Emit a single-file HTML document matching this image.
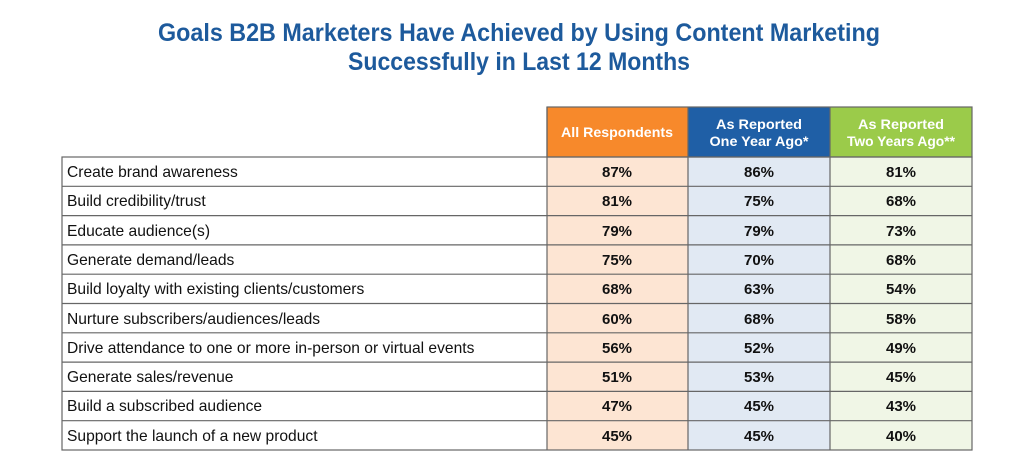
<!DOCTYPE html>
<html><head><meta charset="utf-8"><style>
body{margin:0;background:#fff;}
svg text{font-family:"Liberation Sans",sans-serif;}
</style></head><body>
<svg width="1024" height="468" xmlns="http://www.w3.org/2000/svg">
<rect width="1024" height="468" fill="#fff"/>
<g fill="#1d5a9c" font-weight="bold" font-size="25" text-anchor="middle">
<text x="519" y="41" textLength="722" lengthAdjust="spacingAndGlyphs">Goals B2B Marketers Have Achieved by Using Content Marketing</text>
<text x="519" y="70" textLength="342" lengthAdjust="spacingAndGlyphs">Successfully in Last 12 Months</text>
</g>
<rect x="547" y="107" width="141" height="50" fill="#f7892b"/>
<rect x="688" y="107" width="142" height="50" fill="#1f5fa6"/>
<rect x="830" y="107" width="142" height="50" fill="#9bcb4a"/>
<g fill="#fff" font-weight="bold" font-size="14" text-anchor="middle">
<text x="617" y="137" textLength="112" lengthAdjust="spacingAndGlyphs">All Respondents</text>
<text x="759" y="129" textLength="86" lengthAdjust="spacingAndGlyphs">As Reported</text>
<text x="759" y="146" textLength="99" lengthAdjust="spacingAndGlyphs">One Year Ago*</text>
<text x="901" y="129" textLength="86" lengthAdjust="spacingAndGlyphs">As Reported</text>
<text x="901" y="146" textLength="108" lengthAdjust="spacingAndGlyphs">Two Years Ago**</text>
</g>
<rect x="547" y="157" width="141" height="293" fill="#fde5d3"/>
<rect x="688" y="157" width="142" height="293" fill="#e1e9f3"/>
<rect x="830" y="157" width="142" height="293" fill="#f0f6e6"/>
<g stroke="#666" stroke-width="1.2" fill="none">
<rect x="62" y="157" width="910" height="293"/>
<rect x="547" y="107" width="425" height="50"/>
<line x1="547" y1="107" x2="547" y2="450"/>
<line x1="688" y1="107" x2="688" y2="450"/>
<line x1="830" y1="107" x2="830" y2="450"/>
<line x1="62" y1="186.3" x2="972" y2="186.3"/>
<line x1="62" y1="215.6" x2="972" y2="215.6"/>
<line x1="62" y1="244.9" x2="972" y2="244.9"/>
<line x1="62" y1="274.2" x2="972" y2="274.2"/>
<line x1="62" y1="303.5" x2="972" y2="303.5"/>
<line x1="62" y1="332.8" x2="972" y2="332.8"/>
<line x1="62" y1="362.1" x2="972" y2="362.1"/>
<line x1="62" y1="391.4" x2="972" y2="391.4"/>
<line x1="62" y1="420.7" x2="972" y2="420.7"/>
</g>
<g fill="#111" font-size="15.6">
<text x="67" y="177">Create brand awareness</text>
<text x="67" y="206">Build credibility/trust</text>
<text x="67" y="236">Educate audience(s)</text>
<text x="67" y="265">Generate demand/leads</text>
<text x="67" y="294">Build loyalty with existing clients/customers</text>
<text x="67" y="324">Nurture subscribers/audiences/leads</text>
<text x="67" y="353">Drive attendance to one or more in-person or virtual events</text>
<text x="67" y="382">Generate sales/revenue</text>
<text x="67" y="411">Build a subscribed audience</text>
<text x="67" y="441">Support the launch of a new product</text>
</g>
<g fill="#111" font-size="15" font-weight="bold" text-anchor="middle">
<text x="617" y="177">87%</text><text x="759" y="177">86%</text><text x="901" y="177">81%</text>
<text x="617" y="206">81%</text><text x="759" y="206">75%</text><text x="901" y="206">68%</text>
<text x="617" y="236">79%</text><text x="759" y="236">79%</text><text x="901" y="236">73%</text>
<text x="617" y="265">75%</text><text x="759" y="265">70%</text><text x="901" y="265">68%</text>
<text x="617" y="294">68%</text><text x="759" y="294">63%</text><text x="901" y="294">54%</text>
<text x="617" y="324">60%</text><text x="759" y="324">68%</text><text x="901" y="324">58%</text>
<text x="617" y="353">56%</text><text x="759" y="353">52%</text><text x="901" y="353">49%</text>
<text x="617" y="382">51%</text><text x="759" y="382">53%</text><text x="901" y="382">45%</text>
<text x="617" y="411">47%</text><text x="759" y="411">45%</text><text x="901" y="411">43%</text>
<text x="617" y="441">45%</text><text x="759" y="441">45%</text><text x="901" y="441">40%</text>
</g>
</svg>
</body></html>
